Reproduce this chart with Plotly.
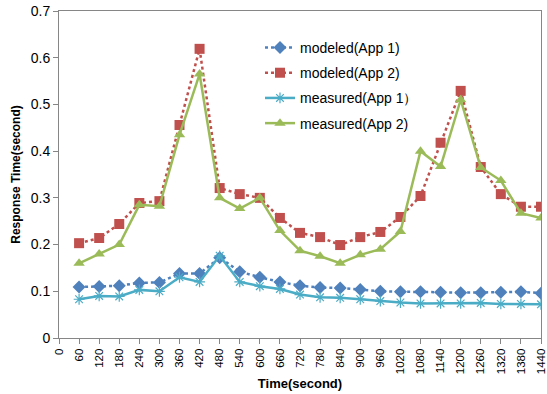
import plotly.graph_objects as go

times = [60, 120, 180, 240, 300, 360, 420, 480, 540, 600, 660, 720, 780, 840,
         900, 960, 1020, 1080, 1140, 1200, 1260, 1320, 1380, 1440]
modeled_app1 = [0.109, 0.110, 0.112, 0.118, 0.119, 0.138, 0.138, 0.172, 0.142, 0.130, 0.120, 0.112,
                0.108, 0.107, 0.104, 0.100, 0.099, 0.099, 0.098, 0.097, 0.097, 0.098, 0.099, 0.096]
modeled_app2 = [0.203, 0.214, 0.244, 0.289, 0.293, 0.456, 0.619, 0.321, 0.308, 0.300, 0.257, 0.225,
                0.216, 0.199, 0.216, 0.227, 0.259, 0.304, 0.418, 0.529, 0.366, 0.308, 0.281, 0.281]
measured_app1 = [0.083, 0.090, 0.089, 0.103, 0.100, 0.130, 0.120, 0.176, 0.120, 0.111, 0.105, 0.093,
                 0.087, 0.086, 0.083, 0.079, 0.076, 0.074, 0.074, 0.074, 0.075, 0.073, 0.073, 0.072]
measured_app2 = [0.160, 0.180, 0.200, 0.285, 0.282, 0.435, 0.565, 0.300, 0.277, 0.300, 0.230, 0.187,
                 0.175, 0.160, 0.178, 0.190, 0.228, 0.400, 0.367, 0.510, 0.365, 0.337, 0.267, 0.257]
x_ticks = list(range(0, 1441, 60))
y_ticks = [0, 0.1, 0.2, 0.3, 0.4, 0.5, 0.6, 0.7]
y_tick_text = ["0", "0.1", "0.2", "0.3", "0.4", "0.5", "0.6", "0.7"]

font = "Liberation Sans, Arial, sans-serif"

fig = go.Figure()
fig.add_trace(go.Scatter(x=times, y=modeled_app1, name="modeled(App 1)", mode="lines+markers",
                         legendgroup="a",
                         line=dict(color="#4F81BD", width=2.5, dash="dot"),
                         marker=dict(symbol="diamond", size=10, color="#4F81BD")))
fig.add_trace(go.Scatter(x=times, y=modeled_app2, name="modeled(App 2)", mode="lines+markers",
                         legendgroup="b",
                         line=dict(color="#C0504D", width=2.5, dash="dot"),
                         marker=dict(symbol="square", size=10, color="#C0504D")))
fig.add_trace(go.Scatter(x=times, y=measured_app1, name="measured(App 1）", mode="lines+markers",
                         legendgroup="c",
                         line=dict(color="#4BACC6", width=2.5),
                         marker=dict(symbol="asterisk-open", size=9, color="#4BACC6",
                                     line=dict(color="#4BACC6", width=1.2))))
fig.add_trace(go.Scatter(x=times, y=measured_app2, name="measured(App 2)", mode="lines+markers",
                         legendgroup="d",
                         line=dict(color="#9BBB59", width=2.5),
                         marker=dict(symbol="triangle-up", size=10, color="#9BBB59")))

fig.update_layout(
    width=547, height=394,
    margin=dict(l=59, r=6, t=11, b=56),
    paper_bgcolor="white", plot_bgcolor="white",
    font=dict(family=font, size=13, color="#000"),
    legend=dict(x=0.417, y=0.936, xanchor="left", yanchor="top",
                bgcolor="rgba(0,0,0,0)", font=dict(size=14), tracegroupgap=4,
                itemwidth=30),
    showlegend=True,
)
fig.update_xaxes(range=[0, 1440], tickvals=x_ticks, ticktext=[str(v) for v in x_ticks],
                 tickangle=-90, ticks="outside", ticklen=5, tickcolor="#868686",
                 showline=True, linecolor="#868686", linewidth=1, mirror=True,
                 showgrid=False, zeroline=False, tickfont=dict(size=11.5), automargin=False,
                 ticklabeloverflow="allow",
                 title=dict(text="<b>Time(second)</b>", font=dict(size=13), standoff=5))
fig.update_yaxes(range=[0, 0.7], tickvals=y_ticks, ticktext=y_tick_text,
                 ticks="outside", ticklen=5, tickcolor="#868686",
                 showline=True, linecolor="#868686", linewidth=1, mirror=True,
                 showgrid=False, zeroline=False, tickfont=dict(size=14), automargin=False,
                 ticklabeloverflow="allow",
                 title=dict(text="<b>Response Time(second)</b>", font=dict(size=12), standoff=7))

# remove the browser's default 8px body margin so the figure fills the window
fig.write_html("out.html", config={"displayModeBar": False},
               post_script="document.body.style.margin='0px';")
